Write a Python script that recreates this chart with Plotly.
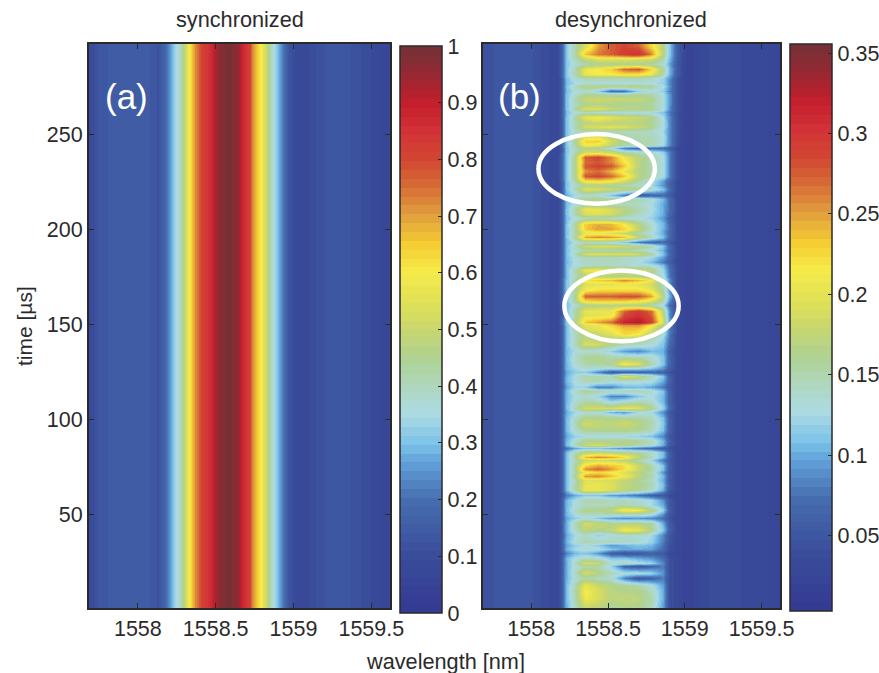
import plotly.graph_objects as go

W, H = 879, 673
INK = "#2b2a2b"
FONT = "Liberation Sans, Helvetica, Arial, sans-serif"

# ---------- panel (a): spectrum read across the picture ----------
a_wavelength = [1557.69, 1557.75, 1557.85, 1558.0, 1558.08, 1558.13, 1558.17, 1558.21, 1558.24, 1558.286,
                1558.325, 1558.37, 1558.414, 1558.465, 1558.517, 1558.58, 1558.645, 1558.67, 1558.72, 1558.735,
                1558.798, 1558.85, 1558.88, 1558.926, 1558.965, 1559.01, 1559.07, 1559.17, 1559.3, 1559.43,
                1559.585, 1559.62]
a_intensity = [0.09, 0.13, 0.15, 0.15, 0.14, 0.12, 0.17, 0.27, 0.33, 0.43,
               0.58, 0.72, 0.81, 0.86, 0.96, 1.0, 0.96, 0.88, 0.81, 0.72,
               0.58, 0.42, 0.33, 0.22, 0.13, 0.09, 0.08, 0.12, 0.14, 0.11,
               0.07, 0.07]
a_time = [0.66, 50, 100, 150, 200, 250, 297.4]

# ---------- panel (b): intensity x 1000, rows read top to bottom ----------
b_left_wavelength = [1557.69, 1557.81, 1557.96, 1558.165]
b_left_level = [42, 52, 52, 30]
b_band_wavelength = [1558.196, 1558.229, 1558.283, 1558.347, 1558.434, 1558.52,
                     1558.606, 1558.693, 1558.779, 1558.855, 1558.898, 1558.952]
b_right_wavelength = [1559.017, 1559.19, 1559.405, 1559.62]
b_right_level = [20, 40, 35, 28]

b_time = [296.4, 292, 289.4, 286.8, 284.1, 281.5, 279.4, 277.1, 275.4, 272.8, 271, 268.4, 265.8, 263.1, 261.4,
          259.1, 256.1, 253.9, 251.8, 249.1, 246.5, 244.4, 242.7, 240.4, 237.8, 235.1, 233.4, 230.8, 228.1, 225.5,
          223.4, 221.1, 218.2, 215.9, 213.3, 210.6, 208, 205.9, 202.8, 200.1, 197.9, 195.8, 193.1, 190.9, 188.8,
          187, 185.3, 182.6, 180.9, 178.3, 175.6, 173.4, 171.3, 167.8, 164.6, 162.2, 159.9, 156.9, 154.6, 151.1,
          149.4, 148, 145, 142.4, 139.8, 135.8, 132.8, 128.9, 126.7, 124.9, 122.8, 120, 117, 114.8, 112.3,
          109.5, 105.7, 103.6, 100.8, 98.1, 94.3, 91.1, 88.5, 86.4, 84.6, 82.5, 80.1, 78.5, 75.9, 73.8,
          72, 70.1, 68, 65.4, 62.8, 60.1, 57.5, 54.9, 52.1, 50, 47.9, 45.3, 41.8, 39.2, 35.6,
          33.6, 31.8, 29.5, 26.9, 24.5, 22.5, 19, 16.4, 12.9, 9.4, 5.9, 1.5]

b_band = [
    [58,112,150,190,250,275,285,275,225,165,115,58],
    [58,112,155,235,265,275,295,305,260,170,115,58],
    [58,112,145,175,195,195,195,190,185,150,108,55],
    [55,110,135,150,160,160,160,160,155,135,100,50],
    [58,112,150,205,215,230,270,280,225,160,108,55],
    [58,112,150,205,215,215,220,220,205,150,105,55],
    [52,108,135,150,150,150,150,150,140,120,92,45],
    [50,105,125,135,130,130,128,130,130,118,88,42],
    [52,108,145,168,170,170,170,165,158,128,92,45],
    [50,105,130,135,118,70,75,118,130,118,85,42],
    [52,108,138,160,155,150,150,155,150,128,92,45],
    [52,108,148,178,185,180,180,175,165,130,92,45],
    [52,108,145,160,165,160,160,160,155,130,92,45],
    [52,108,155,195,195,180,170,170,165,132,90,45],
    [50,105,130,140,132,130,128,128,125,110,80,42],
    [52,108,155,200,212,198,188,178,165,125,88,42],
    [52,108,148,170,178,170,170,170,160,128,90,45],
    [52,108,150,188,190,198,193,180,165,128,90,45],
    [52,108,138,150,150,150,145,142,140,122,88,42],
    [52,108,150,195,198,165,150,150,145,128,88,42],
    [55,110,160,228,230,188,160,150,150,128,88,42],
    [55,110,155,210,205,175,150,150,145,125,88,42],
    [52,108,145,168,160,132,82,70,72,70,58,34],
    [52,108,148,188,190,178,150,142,135,118,82,40],
    [55,110,165,275,288,258,205,170,150,128,85,40],
    [55,110,165,268,278,258,220,170,150,128,85,40],
    [55,110,165,278,290,278,232,170,150,128,85,40],
    [55,110,165,255,268,240,205,165,150,128,85,40],
    [55,110,165,278,288,270,232,172,150,128,85,40],
    [52,108,155,215,222,212,188,155,130,95,65,36],
    [52,108,138,160,165,155,150,140,125,90,65,36],
    [52,108,148,195,190,180,170,160,140,110,72,36],
    [50,102,125,140,132,112,82,55,62,70,55,32],
    [52,108,138,160,165,160,155,150,135,105,72,36],
    [52,106,130,142,142,142,145,140,125,100,72,36],
    [52,108,152,205,205,190,170,150,130,100,72,36],
    [52,108,150,192,195,188,160,142,125,100,68,36],
    [50,106,130,142,145,140,135,130,120,92,62,32],
    [52,108,158,232,245,240,212,170,135,105,70,36],
    [52,108,155,232,250,248,230,178,140,102,70,36],
    [52,108,152,202,205,195,180,150,130,100,68,36],
    [52,108,160,245,258,252,235,178,145,108,70,36],
    [50,104,130,142,136,130,115,82,65,70,55,32],
    [52,106,145,183,190,188,180,170,150,110,70,36],
    [52,106,135,150,150,150,150,145,130,100,66,36],
    [52,106,145,188,195,190,195,185,158,110,70,36],
    [52,106,130,142,145,142,140,135,125,95,66,32],
    [50,104,130,145,145,145,140,130,108,78,58,32],
    [52,106,130,136,140,140,136,130,130,108,70,36],
    [52,106,150,205,212,200,195,190,170,122,76,36],
    [52,106,145,170,170,162,160,160,155,128,80,36],
    [55,108,155,218,232,236,258,240,212,148,90,36],
    [55,108,155,195,200,200,205,200,185,148,90,36],
    [55,108,158,212,224,224,224,224,205,155,95,40],
    [55,108,165,272,275,275,282,280,248,165,105,40],
    [55,108,158,222,228,228,224,220,195,150,90,40],
    [52,106,138,160,165,165,165,160,150,122,72,36],
    [52,106,155,202,205,205,272,300,268,170,90,36],
    [52,106,155,198,200,205,285,305,278,175,90,36],
    [55,108,160,232,250,268,318,330,295,190,98,36],
    [52,108,152,198,205,228,255,255,218,158,90,36],
    [52,106,152,192,200,215,238,238,200,148,85,36],
    [52,106,145,170,180,195,225,215,170,130,80,36],
    [52,106,145,175,170,165,160,160,145,118,75,36],
    [52,106,148,192,185,165,150,145,135,110,70,36],
    [50,104,128,136,130,118,95,85,105,102,60,32],
    [52,104,140,160,165,150,150,150,140,110,65,32],
    [52,104,135,150,155,160,212,195,150,110,65,32],
    [50,104,126,136,135,130,130,125,115,92,60,32],
    [48,98,115,118,85,55,60,62,65,62,46,28],
    [52,102,130,150,150,145,198,175,145,110,60,32],
    [52,104,130,145,150,136,135,135,130,100,60,32],
    [46,95,122,118,80,85,105,108,98,78,52,32],
    [52,104,140,160,155,145,150,150,140,110,60,32],
    [52,102,130,136,122,85,85,112,130,105,60,32],
    [52,104,135,150,145,118,130,145,135,105,60,32],
    [52,104,148,188,190,185,205,195,165,118,68,32],
    [50,100,124,132,135,105,95,125,125,88,52,32],
    [52,104,140,165,165,165,160,155,145,108,60,32],
    [52,104,148,188,175,170,185,170,150,112,60,32],
    [52,104,140,160,165,165,165,160,145,108,60,32],
    [50,98,118,126,125,125,125,120,110,84,52,32],
    [52,104,135,165,165,165,165,160,145,105,60,32],
    [52,104,148,178,190,170,165,150,135,100,56,32],
    [46,72,98,112,112,102,90,78,68,56,42,26],
    [52,104,148,165,170,165,160,155,140,105,56,32],
    [52,104,158,238,258,248,225,175,145,105,56,32],
    [52,104,148,180,185,180,170,150,122,78,52,32],
    [52,106,156,222,242,232,222,180,150,108,56,32],
    [52,106,160,255,272,252,222,183,155,108,56,32],
    [52,106,155,212,225,215,195,170,145,92,52,32],
    [52,106,160,252,258,235,208,175,150,105,56,32],
    [52,104,150,195,195,190,175,160,140,100,52,32],
    [52,104,152,202,205,195,175,165,150,108,56,32],
    [52,104,152,202,205,190,170,160,140,100,52,32],
    [40,78,100,112,112,95,88,75,60,50,38,26],
    [52,104,130,150,150,145,145,140,125,90,52,32],
    [52,104,130,142,145,145,150,140,125,100,52,32],
    [52,104,142,165,165,170,218,212,170,118,56,32],
    [52,104,130,145,145,150,145,145,135,90,50,32],
    [48,98,116,130,112,95,90,92,85,72,46,30],
    [52,102,148,188,175,165,165,165,155,100,55,32],
    [52,102,142,170,165,170,212,202,165,112,60,32],
    [48,98,125,140,118,130,135,135,125,85,50,32],
    [52,102,135,150,145,145,140,135,120,80,46,32],
    [48,96,116,126,116,92,102,110,105,76,42,32],
    [52,102,125,136,130,112,98,102,96,68,42,32],
    [42,82,106,112,92,58,50,52,62,52,36,26],
    [52,102,130,140,135,112,110,100,90,72,42,32],
    [52,100,142,192,178,132,145,130,120,85,42,32],
    [52,102,135,150,150,120,65,52,66,80,42,32],
    [52,102,142,188,165,145,132,130,120,90,42,32],
    [52,102,135,150,145,135,84,52,62,80,42,32],
    [52,104,150,205,180,165,160,150,130,95,42,32],
    [52,104,152,215,190,170,165,165,145,100,42,32],
    [52,104,150,210,190,170,175,170,150,100,42,32],
    [52,102,145,182,175,160,165,165,145,95,42,32],
]

a_ticks = [0, .1, .2, .3, .4, .5, .6, .7, .8, .9, 1]
b_ticks = [.05, .1, .15, .2, .25, .3, .35]
x_ticks = [1558, 1558.5, 1559, 1559.5]
y_ticks = [50, 100, 150, 200, 250]

# ---------- muted print-style "jet" with 64 flat steps ----------
cmap_pos = [0, .1, .2, .27, .3, .35, .4, .45, .5, .55, .6, .65, .7, .75, .8, .85, .9, .95, 1]
cmap_rgb = [(52,58,146), (58,76,155), (70,110,175), (100,165,220), (125,195,232), (172,218,228),
            (175,215,190), (175,210,145), (200,215,110), (225,225,85), (245,235,75), (245,205,50),
            (225,160,60), (215,110,55), (210,70,50), (210,50,55), (195,30,45), (150,40,50), (115,50,55)]

def cmap_at(p):
    for i in range(len(cmap_pos) - 1):
        if p <= cmap_pos[i + 1]:
            f = (p - cmap_pos[i]) / (cmap_pos[i + 1] - cmap_pos[i])
            c = [round(u + (v - u) * f) for u, v in zip(cmap_rgb[i], cmap_rgb[i + 1])]
            return f"rgb({c[0]},{c[1]},{c[2]})"
    return "rgb(115,50,55)"

STEPS = 64
colorscale = []
for k in range(STEPS):
    col = cmap_at((k + .5) / STEPS)
    colorscale += [[k / STEPS, col], [(k + 1) / STEPS, col]]

# ---------- assemble ----------
b_wavelength = b_left_wavelength + b_band_wavelength + b_right_wavelength
b_z = [[v / 1000 for v in b_left_level + row + b_right_level] for row in b_band][::-1]
b_t = b_time[::-1]
a_z = [a_intensity for _ in a_time]

def px_x(p): return p / W
def px_y(p): return 1 - p / H

TICK_SIZE = 21.5

fig = go.Figure()
fig.add_trace(go.Heatmap(x=a_wavelength, y=a_time, z=a_z, zmin=0, zmax=1, zsmooth="best",
    colorscale=colorscale, xaxis="x", yaxis="y",
    colorbar=dict(x=px_x(400), xanchor="left", xpad=0, ypad=0, y=px_y(613), yanchor="bottom",
                  len=(613 - 46) / H, lenmode="fraction", thickness=42, thicknessmode="pixels",
                  tickvals=a_ticks, ticktext=[f"{v:g}" for v in a_ticks], ticks="inside", ticklen=4,
                  tickcolor=INK, outlinecolor=INK, outlinewidth=1.5,
                  tickfont=dict(size=TICK_SIZE, color=INK, family=FONT))))
fig.add_trace(go.Heatmap(x=b_wavelength, y=b_t, z=b_z, zmin=0.003, zmax=0.3556, zsmooth="best",
    colorscale=colorscale, xaxis="x2", yaxis="y2",
    colorbar=dict(x=px_x(790), xanchor="left", xpad=0, ypad=0, y=px_y(611), yanchor="bottom",
                  len=(611 - 44) / H, lenmode="fraction", thickness=42, thicknessmode="pixels",
                  tickvals=b_ticks, ticktext=[f"{v:g}" for v in b_ticks], ticks="inside", ticklen=4,
                  tickcolor=INK, outlinecolor=INK, outlinewidth=1.5,
                  tickfont=dict(size=TICK_SIZE, color=INK, family=FONT))))

axis = dict(showgrid=False, zeroline=False, showline=True, linecolor=INK, linewidth=2, mirror="ticks",
            ticks="inside", ticklen=5, tickcolor=INK, tickwidth=1,
            tickfont=dict(size=TICK_SIZE, color=INK, family=FONT))
xrange_ = [1557.686, 1559.62]
yrange_ = [0.66, 297.4]
fig.update_layout(
    width=W, height=H, margin=dict(l=0, r=0, t=0, b=0, autoexpand=False),
    paper_bgcolor="white", plot_bgcolor="white",
    showlegend=False, font=dict(family=FONT, color=INK, size=20),
    xaxis=dict(axis, domain=[px_x(89), px_x(390)], range=xrange_, tickvals=x_ticks,
               ticktext=[f"{v:g}" for v in x_ticks], anchor="y"),
    yaxis=dict(axis, domain=[px_y(608), px_y(44)], range=yrange_, tickvals=y_ticks, anchor="x"),
    xaxis2=dict(axis, domain=[px_x(483), px_x(780)], range=xrange_, tickvals=x_ticks,
                ticktext=[f"{v:g}" for v in x_ticks], anchor="y2"),
    yaxis2=dict(axis, domain=[px_y(608), px_y(44)], range=yrange_, tickvals=y_ticks, anchor="x2",
                showticklabels=False),
)

# white ellipses marking the two hot regions in (b)
ellipse_1 = dict(x0=1558.047, x1=1558.805, y0=213.4, y1=250)
ellipse_2 = dict(x0=1558.216, x1=1558.96, y0=141, y1=178.2)
for e in (ellipse_1, ellipse_2):
    fig.add_shape(type="circle", xref="x2", yref="y2", line=dict(color="white", width=4.5), **e)

def label(text, x, y, size, color=INK, angle=0):
    fig.add_annotation(text=text, x=px_x(x), y=px_y(y), xref="paper", yref="paper", showarrow=False,
                       xanchor="center", yanchor="middle", textangle=angle,
                       font=dict(size=size, color=color, family=FONT))

label("synchronized", 240, 19, 21.7)
label("desynchronized", 631, 19, 21.7)
label("wavelength [nm]", 446, 661, 21.7)
label("time [µs]", 24, 326, 21, angle=-90)
label("(a)", 126, 97, 35, "white")
label("(b)", 519, 97, 35, "white")

fig.write_html("out.html", config={"displayModeBar": False}, post_script="document.body.style.margin='0';")
